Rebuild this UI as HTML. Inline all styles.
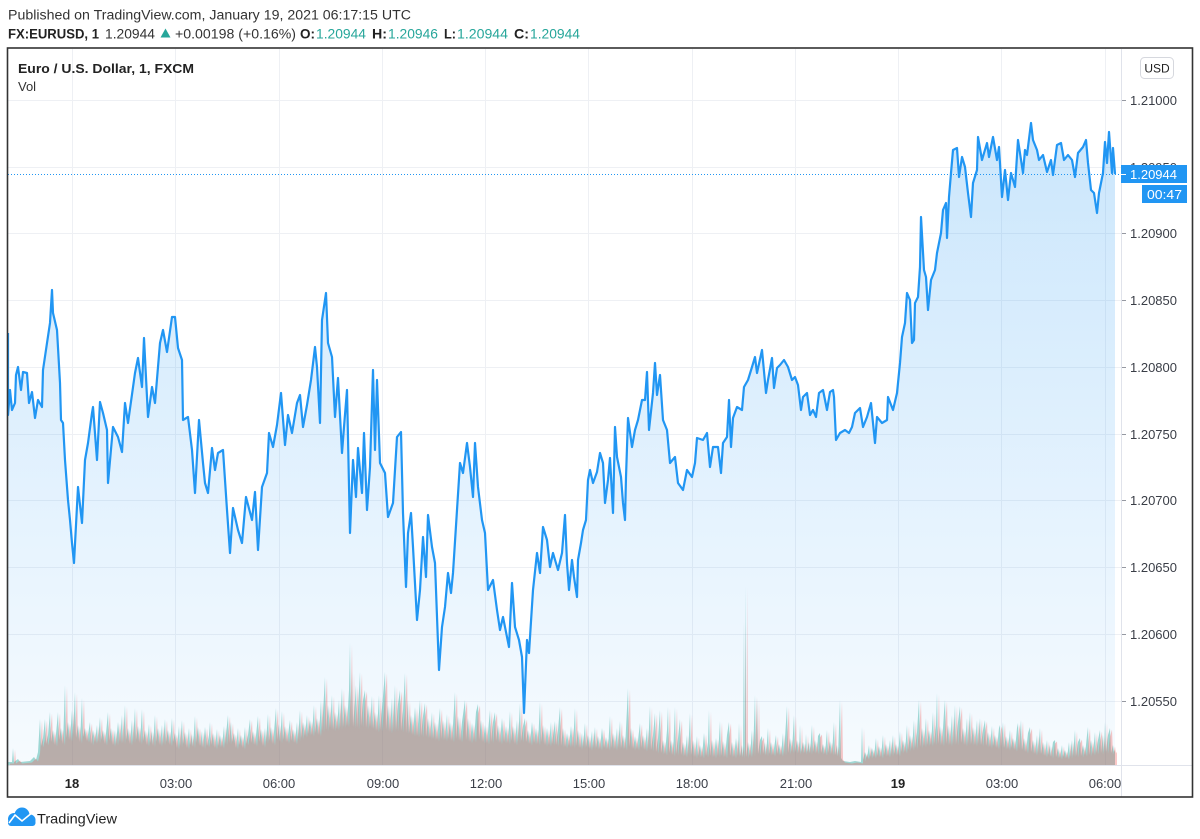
<!DOCTYPE html>
<html>
<head>
<meta charset="utf-8">
<style>
html,body{margin:0;padding:0;background:#fff;}
svg{display:block;}
text{font-family:"Liberation Sans",Arial,sans-serif;}
</style>
</head>
<body>
<svg width="1200" height="839" viewBox="0 0 1200 839" xmlns="http://www.w3.org/2000/svg" xmlns:xlink="http://www.w3.org/1999/xlink">
<defs>
<linearGradient id="g" gradientUnits="userSpaceOnUse" x1="0" y1="110" x2="0" y2="765">
<stop offset="0" stop-color="#2196f3" stop-opacity="0.24"/>
<stop offset="1" stop-color="#2196f3" stop-opacity="0.04"/>
</linearGradient>
<clipPath id="pane"><rect x="8" y="49" width="1113" height="716"/></clipPath>
<polygon id="vol" points="8,765 8,762 12,762 13,748 14,762 18,759 20,762 30,761 34,757 36,760 38,752 40,719 41,746 43,738 45,719 46,744 48,735 50,712 51,742 53,730 55,745 58,712 59,740 61,728 63,744 65,685 66,738 68,722 70,740 72,710 73,735 75,692 76,738 78,725 80,742 82,698 83,737 85,728 87,741 90,722 91,744 93,730 95,742 97,725 98,742 100,717 101,740 103,730 105,744 108,712 109,741 111,728 113,745 115,730 116,744 118,722 120,742 122,715 123,743 125,705 126,740 128,728 130,744 132,720 133,742 135,708 136,740 138,726 140,743 142,709 143,741 145,730 147,745 149,724 150,743 152,731 153,746 155,715 156,742 158,728 160,745 162,725 163,744 165,719 166,742 168,730 170,745 172,718 173,742 175,733 177,748 179,726 180,746 182,720 183,744 185,732 187,748 189,728 190,745 192,734 193,747 195,716 196,743 198,727 200,746 202,731 203,748 205,727 207,746 209,735 210,722 211,745 213,733 215,748 217,729 218,746 220,735 222,747 224,726 225,744 228,715 229,743 231,722 232,742 234,733 236,748 238,728 239,745 241,735 243,748 245,727 246,744 248,735 250,719 251,743 253,731 255,745 258,716 259,742 261,729 263,746 265,728 266,742 268,714 269,741 271,727 273,744 276,708 277,740 279,724 280,742 282,711 283,740 285,726 287,742 290,720 291,741 293,729 295,743 297,722 298,740 300,710 301,738 303,722 305,736 307,715 308,734 310,720 312,735 314,705 315,733 317,718 319,735 321,700 322,731 325,677 326,730 328,705 330,728 332,695 333,730 335,712 337,729 339,700 340,728 342,688 343,727 345,705 347,726 349,690 350,643 351,725 352,672 353,727 355,700 356,685 357,728 360,672 361,726 363,700 365,690 366,728 368,705 370,727 372,696 373,729 375,712 377,731 379,695 380,730 382,708 385,672 386,730 388,705 390,732 392,698 393,731 395,685 396,730 398,704 400,690 401,731 403,710 405,673 406,733 408,700 409,733 411,715 413,735 415,707 417,736 420,700 421,736 423,716 425,703 426,737 428,718 430,738 432,712 433,739 435,722 437,740 440,708 441,739 443,720 445,740 447,714 448,739 450,722 452,741 455,692 456,739 458,716 460,741 462,722 465,700 466,740 468,718 470,742 472,723 474,741 476,712 478,704 479,740 481,720 483,742 485,725 487,743 490,710 491,742 493,722 495,712 496,741 498,725 500,743 502,718 504,742 506,726 508,743 510,711 511,741 513,726 515,744 517,720 518,742 520,703 521,741 523,726 525,718 526,742 528,730 530,744 532,722 534,743 536,728 538,744 540,702 541,742 543,725 545,745 547,728 549,745 551,722 552,744 555,721 556,745 558,730 560,707 561,746 563,728 565,747 567,733 569,746 571,726 573,747 575,708 576,746 578,730 580,748 582,733 583,747 585,723 586,747 588,735 590,749 592,731 593,748 595,727 596,748 598,736 600,749 602,728 604,748 606,737 608,749 610,716 611,748 613,733 615,749 617,728 618,748 620,721 621,748 623,735 625,749 628,688 629,747 631,728 633,749 635,736 637,749 640,723 641,748 643,735 645,750 647,728 648,749 650,706 651,750 653,735 655,713 656,752 658,738 660,710 661,753 663,740 665,754 667,730 668,707 669,753 671,740 673,755 675,707 676,754 678,738 680,719 681,755 683,742 685,756 687,735 688,755 690,713 691,755 693,740 695,757 697,736 698,756 700,745 702,757 704,733 706,756 708,742 709,710 710,756 712,740 714,757 716,738 718,756 720,721 721,756 723,741 725,757 727,735 729,722 730,756 732,742 734,757 736,738 738,756 739,723 740,756 742,745 743,757 744,620 744.6,757 745.4,586 746,757 748,742 750,756 752,730 753,755 755,695 756,754 757,698 758,754 760,740 762,736 763,754 765,742 766,755 768,728 769,754 771,742 773,755 776,735 777,754 779,744 781,755 783,733 784,754 787,706 788,753 790,738 792,752 794,715 795,752 797,740 799,753 800,725 801,752 803,742 805,753 806,734 807,752 809,742 810,753 812,725 813,752 815,740 817,753 818,736 820,733 821,753 823,744 825,754 827,730 828,753 830,741 832,754 834,722 835,755 837,745 838,756 840,700 841,758 843,761 850,762 855,761 861,762 862,727 863,760 865,752 867,758 869,745 870,757 872,748 874,757 876,738 877,756 879,746 881,757 883,735 884,755 886,744 888,756 890,740 891,755 893,735 894,754 896,744 898,755 900,731 901,752 903,740 905,752 907,725 908,750 910,735 912,749 914,720 915,748 917,732 919,700 920,747 922,728 924,746 926,718 927,745 929,730 931,745 933,712 934,744 936,725 937,693 938,744 940,726 942,745 944,712 945,700 946,744 948,725 950,745 952,715 953,744 955,705 956,744 958,722 960,706 961,743 963,728 965,745 967,718 968,744 970,712 971,744 973,727 975,745 977,720 978,744 980,718 981,745 983,730 985,720 986,746 988,732 990,747 992,726 993,746 995,735 997,748 999,728 1000,725 1001,747 1003,722 1004,748 1006,736 1008,749 1010,730 1011,748 1013,738 1015,750 1017,728 1018,723 1019,749 1021,720 1022,750 1024,738 1026,752 1028,733 1030,727 1031,752 1033,740 1035,754 1037,735 1038,753 1040,728 1041,754 1043,742 1045,756 1047,740 1048,755 1050,745 1051,757 1053,742 1055,740 1056,757 1058,748 1060,758 1062,745 1063,757 1065,750 1067,758 1069,742 1070,757 1072,740 1073,756 1075,730 1076,756 1078,742 1080,738 1081,756 1083,745 1085,755 1087,735 1088,727 1089,755 1091,740 1093,754 1095,732 1096,753 1098,740 1100,730 1101,753 1103,735 1104,752 1105,722 1106,752 1108,735 1110,728 1111,753 1113,745 1114,752 1115,750 1115,765"/>
</defs>
<rect width="1200" height="839" fill="#fff"/>

<!-- header -->
<text x="8" y="19.5" font-size="13.5" fill="#333" textLength="403" lengthAdjust="spacingAndGlyphs">Published on TradingView.com, January 19, 2021 06:17:15 UTC</text>
<text x="8" y="38.5" font-size="13.5" font-weight="bold" fill="#222" textLength="91" lengthAdjust="spacingAndGlyphs">FX:EURUSD, 1</text>
<text x="105" y="38.5" font-size="13.5" fill="#333" textLength="50" lengthAdjust="spacingAndGlyphs">1.20944</text>
<polygon points="160.5,37.5 170.5,37.5 165.5,28.5" fill="#26a69a"/>
<text x="175" y="38.5" font-size="13.5" fill="#333" textLength="121" lengthAdjust="spacingAndGlyphs">+0.00198 (+0.16%)</text>
<text x="300" y="38.5" font-size="13.5" font-weight="bold" fill="#222" textLength="15" lengthAdjust="spacingAndGlyphs">O:</text>
<text x="316" y="38.5" font-size="13.5" fill="#26a69a" textLength="50" lengthAdjust="spacingAndGlyphs">1.20944</text>
<text x="372" y="38.5" font-size="13.5" font-weight="bold" fill="#222" textLength="15" lengthAdjust="spacingAndGlyphs">H:</text>
<text x="388" y="38.5" font-size="13.5" fill="#26a69a" textLength="50" lengthAdjust="spacingAndGlyphs">1.20946</text>
<text x="444" y="38.5" font-size="13.5" font-weight="bold" fill="#222" textLength="12" lengthAdjust="spacingAndGlyphs">L:</text>
<text x="457" y="38.5" font-size="13.5" fill="#26a69a" textLength="51" lengthAdjust="spacingAndGlyphs">1.20944</text>
<text x="514" y="38.5" font-size="13.5" font-weight="bold" fill="#222" textLength="15" lengthAdjust="spacingAndGlyphs">C:</text>
<text x="530" y="38.5" font-size="13.5" fill="#26a69a" textLength="50" lengthAdjust="spacingAndGlyphs">1.20944</text>

<!-- grid -->
<g stroke="#eef0f4" stroke-width="1">
<line x1="8" x2="1121" y1="100.5" y2="100.5"/>
<line x1="8" x2="1121" y1="167.5" y2="167.5"/>
<line x1="8" x2="1121" y1="233.5" y2="233.5"/>
<line x1="8" x2="1121" y1="300.5" y2="300.5"/>
<line x1="8" x2="1121" y1="367.5" y2="367.5"/>
<line x1="8" x2="1121" y1="434.5" y2="434.5"/>
<line x1="8" x2="1121" y1="500.5" y2="500.5"/>
<line x1="8" x2="1121" y1="567.5" y2="567.5"/>
<line x1="8" x2="1121" y1="634.5" y2="634.5"/>
<line x1="8" x2="1121" y1="701.5" y2="701.5"/>
<line x1="72.5" x2="72.5" y1="49" y2="765"/>
<line x1="175.5" x2="175.5" y1="49" y2="765"/>
<line x1="279.5" x2="279.5" y1="49" y2="765"/>
<line x1="382.5" x2="382.5" y1="49" y2="765"/>
<line x1="485.5" x2="485.5" y1="49" y2="765"/>
<line x1="588.5" x2="588.5" y1="49" y2="765"/>
<line x1="692.5" x2="692.5" y1="49" y2="765"/>
<line x1="795.5" x2="795.5" y1="49" y2="765"/>
<line x1="898.5" x2="898.5" y1="49" y2="765"/>
<line x1="1001.5" x2="1001.5" y1="49" y2="765"/>
<line x1="1105.5" x2="1105.5" y1="49" y2="765"/>
</g>

<!-- area fill -->
<polygon clip-path="url(#pane)" fill="url(#g)" points="8,765 8,333 8,415 10,390 12,410 15,403 16,375 18,367 21,390 23,372 27,373 29,403 32,392 35,418 38,400 42,407 43,370 47,343 50,323 52,290 53,313 57,330 60,383 61,420 63,423 65,460 68,500 70,520 72,543 74,563 78,487 82,523 85,460 88,443 92,413 93,407 97,460 100,402 103,413 107,430 108,483 113,427 118,437 122,452 125,403 128,423 135,373 138,358 142,387 144,338 148,417 152,387 155,403 160,343 163,330 167,352 172,317 175,317 178,348 182,360 183,420 188,417 192,450 195,493 199,420 203,463 205,483 208,493 212,448 215,470 218,453 223,450 227,510 230,553 233,508 238,530 242,543 246,497 252,520 255,492 258,550 262,487 267,473 269,433 273,447 277,425 281,393 285,445 288,415 292,433 297,403 300,395 303,427 307,405 311,380 315,347 317,367 320,423 322,320 326,293 328,343 332,357 335,417 338,378 342,453 344,427 347,390 350,533 353,460 356,497 358,448 362,493 364,433 367,510 370,467 373,370 375,450 377,380 380,463 385,473 388,517 393,503 397,437 401,432 403,513 406,587 408,533 411,513 413,547 417,620 420,590 423,537 426,577 428,515 432,547 435,563 439,670 442,627 445,607 448,573 451,593 453,573 457,510 460,463 463,473 467,443 470,467 473,497 475,443 478,487 482,520 485,533 488,590 493,580 497,610 500,630 503,617 509,647 512,583 515,627 519,640 522,657 524,713 527,640 529,653 533,590 537,553 540,573 543,527 547,540 550,567 553,553 558,570 562,553 565,515 567,563 569,590 572,560 574,577 577,597 578,560 581,543 583,530 586,520 588,480 590,470 593,483 597,472 600,453 603,463 605,503 608,480 610,458 613,513 615,427 617,457 621,477 623,503 625,520 626,477 628,418 632,447 635,430 638,420 642,400 645,400 647,372 649,430 653,393 655,363 657,395 660,375 663,420 667,430 670,463 675,457 678,483 683,490 687,470 692,477 695,463 697,438 703,440 707,433 710,467 713,447 718,447 721,473 723,443 727,437 729,400 731,447 733,418 737,407 742,410 744,387 748,380 752,367 755,357 757,373 762,350 766,393 768,380 772,358 774,388 777,368 780,365 784,360 788,367 792,380 795,377 798,385 801,410 803,397 807,393 810,415 813,410 816,417 819,393 823,390 827,410 830,392 833,390 834,397 836,440 840,433 845,430 849,433 852,427 855,413 860,408 863,427 867,417 871,403 875,443 877,417 882,423 887,420 888,397 893,410 897,393 900,363 902,337 905,323 907,293 910,300 912,343 914,340 915,303 918,297 920,267 921,217 924,270 926,277 928,310 931,280 935,270 937,253 941,233 943,210 946,203 947,238 949,197 951,173 953,150 957,148 959,177 962,157 965,167 968,193 971,217 973,183 977,170 978,137 982,160 987,143 989,157 993,137 997,160 999,147 1002,197 1005,170 1008,200 1011,173 1015,187 1018,140 1023,173 1025,150 1027,155 1031,123 1033,140 1037,150 1039,160 1043,155 1047,172 1051,160 1053,175 1057,145 1061,143 1064,160 1068,155 1072,160 1075,177 1078,153 1083,147 1086,140 1088,163 1091,190 1094,193 1097,213 1099,193 1103,173 1105,142 1107,163 1109,132 1112,173 1113,148 1115,174 1115,765"/>

<!-- volume: teal + salmon overlapping -->
<g clip-path="url(#pane)">
<use xlink:href="#vol" href="#vol" fill="#26a69a" fill-opacity="0.42"/>
<use xlink:href="#vol" href="#vol" fill="#ef5350" fill-opacity="0.32" transform="translate(2,1.5)"/>
</g>

<!-- line -->
<polyline clip-path="url(#pane)" fill="none" stroke="#2196f3" stroke-width="2.2" stroke-linejoin="round" points="8,333 8,415 10,390 12,410 15,403 16,375 18,367 21,390 23,372 27,373 29,403 32,392 35,418 38,400 42,407 43,370 47,343 50,323 52,290 53,313 57,330 60,383 61,420 63,423 65,460 68,500 70,520 72,543 74,563 78,487 82,523 85,460 88,443 92,413 93,407 97,460 100,402 103,413 107,430 108,483 113,427 118,437 122,452 125,403 128,423 135,373 138,358 142,387 144,338 148,417 152,387 155,403 160,343 163,330 167,352 172,317 175,317 178,348 182,360 183,420 188,417 192,450 195,493 199,420 203,463 205,483 208,493 212,448 215,470 218,453 223,450 227,510 230,553 233,508 238,530 242,543 246,497 252,520 255,492 258,550 262,487 267,473 269,433 273,447 277,425 281,393 285,445 288,415 292,433 297,403 300,395 303,427 307,405 311,380 315,347 317,367 320,423 322,320 326,293 328,343 332,357 335,417 338,378 342,453 344,427 347,390 350,533 353,460 356,497 358,448 362,493 364,433 367,510 370,467 373,370 375,450 377,380 380,463 385,473 388,517 393,503 397,437 401,432 403,513 406,587 408,533 411,513 413,547 417,620 420,590 423,537 426,577 428,515 432,547 435,563 439,670 442,627 445,607 448,573 451,593 453,573 457,510 460,463 463,473 467,443 470,467 473,497 475,443 478,487 482,520 485,533 488,590 493,580 497,610 500,630 503,617 509,647 512,583 515,627 519,640 522,657 524,713 527,640 529,653 533,590 537,553 540,573 543,527 547,540 550,567 553,553 558,570 562,553 565,515 567,563 569,590 572,560 574,577 577,597 578,560 581,543 583,530 586,520 588,480 590,470 593,483 597,472 600,453 603,463 605,503 608,480 610,458 613,513 615,427 617,457 621,477 623,503 625,520 626,477 628,418 632,447 635,430 638,420 642,400 645,400 647,372 649,430 653,393 655,363 657,395 660,375 663,420 667,430 670,463 675,457 678,483 683,490 687,470 692,477 695,463 697,438 703,440 707,433 710,467 713,447 718,447 721,473 723,443 727,437 729,400 731,447 733,418 737,407 742,410 744,387 748,380 752,367 755,357 757,373 762,350 766,393 768,380 772,358 774,388 777,368 780,365 784,360 788,367 792,380 795,377 798,385 801,410 803,397 807,393 810,415 813,410 816,417 819,393 823,390 827,410 830,392 833,390 834,397 836,440 840,433 845,430 849,433 852,427 855,413 860,408 863,427 867,417 871,403 875,443 877,417 882,423 887,420 888,397 893,410 897,393 900,363 902,337 905,323 907,293 910,300 912,343 914,340 915,303 918,297 920,267 921,217 924,270 926,277 928,310 931,280 935,270 937,253 941,233 943,210 946,203 947,238 949,197 951,173 953,150 957,148 959,177 962,157 965,167 968,193 971,217 973,183 977,170 978,137 982,160 987,143 989,157 993,137 997,160 999,147 1002,197 1005,170 1008,200 1011,173 1015,187 1018,140 1023,173 1025,150 1027,155 1031,123 1033,140 1037,150 1039,160 1043,155 1047,172 1051,160 1053,175 1057,145 1061,143 1064,160 1068,155 1072,160 1075,177 1078,153 1083,147 1086,140 1088,163 1091,190 1094,193 1097,213 1099,193 1103,173 1105,142 1107,163 1109,132 1112,173 1113,148 1115,174"/>

<!-- last price dotted line -->
<line x1="8" x2="1121" y1="174.5" y2="174.5" stroke="#2196f3" stroke-width="1" stroke-dasharray="1,2"/>

<!-- axes separators -->
<line x1="8" x2="1192" y1="765.5" y2="765.5" stroke="#e0e3eb" stroke-width="1"/>
<line x1="1121.5" x2="1121.5" y1="49" y2="797" stroke="#e0e3eb" stroke-width="1"/>

<!-- legend -->
<text x="18" y="73" font-size="13" font-weight="bold" fill="#222" textLength="176" lengthAdjust="spacingAndGlyphs">Euro / U.S. Dollar, 1, FXCM</text>
<text x="18" y="91" font-size="13" fill="#333">Vol</text>

<!-- price axis -->
<g stroke="#9598a1" stroke-width="1">
<line x1="1122" x2="1126" y1="100.5" y2="100.5"/>
<line x1="1122" x2="1126" y1="233.5" y2="233.5"/>
<line x1="1122" x2="1126" y1="300.5" y2="300.5"/>
<line x1="1122" x2="1126" y1="367.5" y2="367.5"/>
<line x1="1122" x2="1126" y1="434.5" y2="434.5"/>
<line x1="1122" x2="1126" y1="500.5" y2="500.5"/>
<line x1="1122" x2="1126" y1="567.5" y2="567.5"/>
<line x1="1122" x2="1126" y1="634.5" y2="634.5"/>
<line x1="1122" x2="1126" y1="701.5" y2="701.5"/>
</g>
<g font-size="13" fill="#3a3e47">
<text x="1130" y="105" textLength="47" lengthAdjust="spacingAndGlyphs">1.21000</text>
<text x="1130" y="172" textLength="47" lengthAdjust="spacingAndGlyphs">1.20950</text>
<text x="1130" y="238" textLength="47" lengthAdjust="spacingAndGlyphs">1.20900</text>
<text x="1130" y="305" textLength="47" lengthAdjust="spacingAndGlyphs">1.20850</text>
<text x="1130" y="372" textLength="47" lengthAdjust="spacingAndGlyphs">1.20800</text>
<text x="1130" y="439" textLength="47" lengthAdjust="spacingAndGlyphs">1.20750</text>
<text x="1130" y="505" textLength="47" lengthAdjust="spacingAndGlyphs">1.20700</text>
<text x="1130" y="572" textLength="47" lengthAdjust="spacingAndGlyphs">1.20650</text>
<text x="1130" y="639" textLength="47" lengthAdjust="spacingAndGlyphs">1.20600</text>
<text x="1130" y="706" textLength="47" lengthAdjust="spacingAndGlyphs">1.20550</text>
</g>
<rect x="1121" y="165" width="66" height="18" fill="#2196f3"/>
<line x1="1121" x2="1126" y1="174.5" y2="174.5" stroke="#fff" stroke-width="1"/>
<text x="1130" y="179" font-size="13" fill="#fff" textLength="47" lengthAdjust="spacingAndGlyphs">1.20944</text>
<rect x="1142" y="185" width="45" height="18" fill="#2196f3"/>
<text x="1147" y="199" font-size="13" fill="#fff" textLength="35" lengthAdjust="spacingAndGlyphs">00:47</text>

<rect x="1140.5" y="57.5" width="33" height="21" rx="4" ry="4" fill="#fff" stroke="#d6d8de" stroke-width="1"/>
<text x="1157" y="72.5" font-size="12" fill="#222" text-anchor="middle">USD</text>

<!-- time axis -->
<g font-size="13" fill="#3a3e47" text-anchor="middle">
<text x="72" y="788" font-weight="bold" fill="#222">18</text>
<text x="176" y="788">03:00</text>
<text x="279" y="788">06:00</text>
<text x="383" y="788">09:00</text>
<text x="486" y="788">12:00</text>
<text x="589" y="788">15:00</text>
<text x="692" y="788">18:00</text>
<text x="796" y="788">21:00</text>
<text x="898" y="788" font-weight="bold" fill="#222">19</text>
<text x="1002" y="788">03:00</text>
<text x="1105" y="788">06:00</text>
</g>

<!-- frame -->
<rect x="7.5" y="48" width="1185" height="749" fill="none" stroke="#333" stroke-width="1.6"/>

<!-- logo -->
<g fill="#2196f3">
<circle cx="14" cy="819" r="6"/>
<circle cx="22" cy="815" r="7.5"/>
<circle cx="30" cy="820" r="5.5"/>
<rect x="8" y="819" width="27.5" height="7" rx="3"/>
</g>
<polyline points="9,823 15,815 22,821 33,812" fill="none" stroke="#fff" stroke-width="1.6"/>
<text x="37" y="823.5" font-size="14" fill="#222" textLength="80" lengthAdjust="spacingAndGlyphs">TradingView</text>
</svg>
</body>
</html>
